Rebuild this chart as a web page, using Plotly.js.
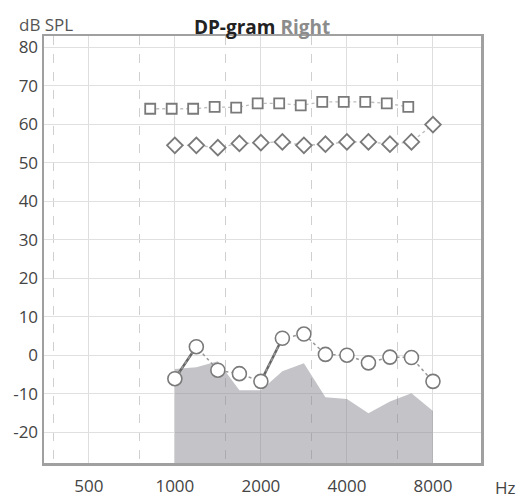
<!DOCTYPE html>
<html>
<head>
<meta charset="utf-8">
<script src="https://cdn.plot.ly/plotly-3.0.1.min.js"></script>
<style>html,body{margin:0;padding:0;background:#fff;}#chart{width:521px;height:499px;}</style>
</head>
<body>
<div id="chart"></div>
<script>
// f2 test frequencies (Hz)
const f2 = [1000, 1189, 1414, 1682, 2000, 2378, 2828, 3364, 4000, 4757, 5657, 6727, 8000];
// f1 primary frequencies (Hz)
const f1 = [820, 975, 1159, 1378, 1639, 1949, 2318, 2757, 3279, 3899, 4637, 5514, 6557];
// L1 primary level (dB SPL) - squares
const L1 = [64, 64, 64, 64.5, 64.3, 65.4, 65.4, 64.9, 65.8, 65.8, 65.8, 65.4, 64.5];
// L2 primary level (dB SPL) - diamonds
const L2 = [54.5, 54.5, 53.9, 55, 55.2, 55.4, 54.5, 54.8, 55.4, 55.4, 54.8, 55.4, 59.9];
// DP level (dB SPL) - circles
const DP = [-6.1, 2.2, -3.9, -4.8, -6.8, 4.4, 5.5, 0.2, 0, -2, -0.5, -0.6, -6.8];
// Noise floor (dB SPL) - shaded area
const noise = [-3.6, -3.1, -1.6, -9.1, -9.1, -4.2, -2.1, -10.9, -11.4, -15.1, -12, -9.9, -14.5];
// Floor of the shaded area
const floorLevel = [-40, -40];
// DP pairs joined with a solid segment
const solidPairs = [[0, 1], [4, 5]];

const xTicks = [500, 1000, 2000, 4000, 8000];
const xMinor = [375, 750, 1500, 3000, 6000];
const yTicks = [-20, -10, 0, 10, 20, 30, 40, 50, 60, 70, 80];

const solidX = [], solidY = [];
solidPairs.forEach(p => { solidX.push(f2[p[0]], f2[p[1]], null); solidY.push(DP[p[0]], DP[p[1]], null); });

const mk = '#7a7a7a';
const traces = [
  {x: [f2[0], f2[f2.length - 1]], y: floorLevel, mode: 'lines', line: {width: 0}, hoverinfo: 'skip', showlegend: false},
  {x: f2, y: noise, mode: 'lines', line: {width: 0}, fill: 'tonexty', fillcolor: 'rgba(130,130,140,0.48)', showlegend: false},
  {x: f1, y: L1, mode: 'lines+markers', line: {color: '#bdbdbd', dash: 'dot', width: 1.3},
   marker: {symbol: 'square', size: 10, color: '#fff', line: {color: mk, width: 1.8}}, showlegend: false},
  {x: f2, y: L2, mode: 'lines+markers', line: {color: '#bdbdbd', dash: 'dot', width: 1.3},
   marker: {symbol: 'diamond', size: 12, color: '#fff', line: {color: mk, width: 1.8}}, showlegend: false},
  {x: solidX, y: solidY, mode: 'lines', line: {color: '#666', width: 2.5}, showlegend: false},
  {x: f2, y: DP, mode: 'lines+markers', line: {color: '#999', dash: 'dot', width: 1.5},
   marker: {symbol: 'circle', size: 14, color: '#fff', line: {color: mk, width: 1.6}}, showlegend: false}
];

const tickFont = {family: 'Open Sans, sans-serif', size: 17, color: '#444'};
const layout = {
  width: 521, height: 499,
  margin: {l: 44, r: 40, t: 36, b: 36},
  paper_bgcolor: '#fff', plot_bgcolor: '#fff',
  title: {text: '<b>DP-gram</b> <b><span style="color:#8c8c8c">Right</span></b>',
          font: {family: 'Open Sans, sans-serif', size: 19, color: '#222'},
          x: 0.503, xanchor: 'center', y: 1 - 27 / 499, yanchor: 'middle'},
  xaxis: {type: 'log', range: [Math.log10(348.5), Math.log10(11780)],
          tickvals: xTicks, ticktext: xTicks.map(String), tickfont: tickFont, ticklabelstandoff: 6,
          showgrid: true, gridcolor: '#dedede', gridwidth: 1,
          minor: {tickvals: xMinor, showgrid: true, griddash: 'dash', gridcolor: '#d0d0d0', gridwidth: 1, ticklen: 0},
          showline: true, linecolor: '#a0a0a0', linewidth: 2.5, mirror: true,
          ticks: '', zeroline: false, fixedrange: true},
  yaxis: {range: [-28, 82.9], tickvals: yTicks, ticktext: yTicks.map(String), tickfont: tickFont,
          showgrid: true, gridcolor: '#e0e0e0', gridwidth: 1.2,
          showline: true, linecolor: '#a0a0a0', linewidth: 2.5, mirror: true,
          ticks: '', zeroline: false, fixedrange: true},
  annotations: [
    {text: 'dB SPL', xref: 'paper', yref: 'paper', x: (17 - 44) / 437, y: (463 - 25) / 427,
     xanchor: 'left', yanchor: 'middle', showarrow: false, font: {family: 'Open Sans, sans-serif', size: 17, color: '#555'}},
    {text: 'Hz', xref: 'paper', yref: 'paper', x: (506 - 44) / 437, y: (463 - 487) / 427,
     xanchor: 'center', yanchor: 'middle', showarrow: false, font: {family: 'Open Sans, sans-serif', size: 17, color: '#444'}}
  ]
};

Plotly.newPlot('chart', traces, layout, {displayModeBar: false, staticPlot: true});
</script>
</body>
</html>
